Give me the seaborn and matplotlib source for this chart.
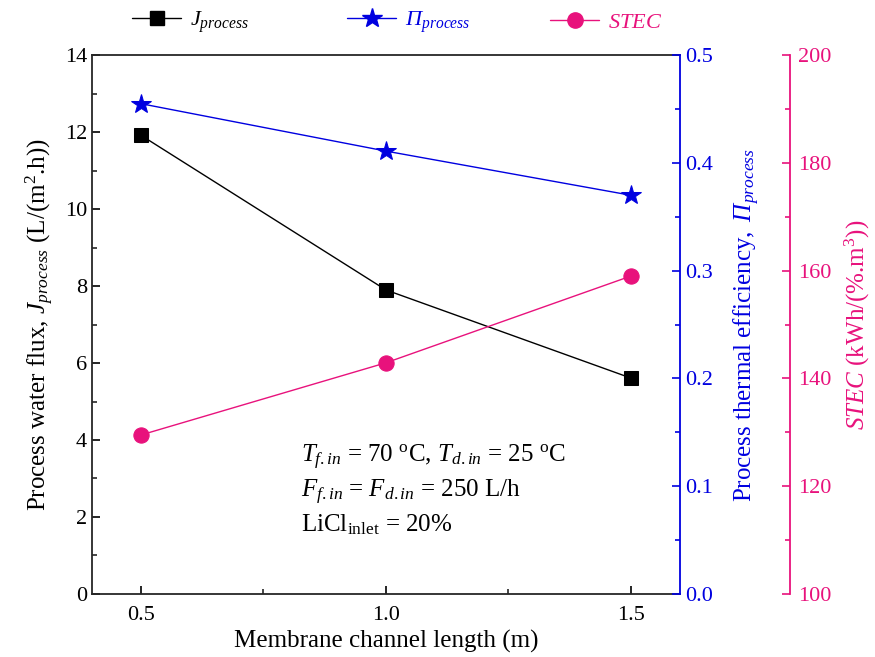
import numpy as np
import pandas as pd
import matplotlib
matplotlib.use("Agg")
import matplotlib.pyplot as plt
import seaborn as sns
from matplotlib.ticker import MultipleLocator, FormatStrFormatter
from matplotlib.lines import Line2D

length = [0.5, 1.0, 1.5]
j_process = [11.92, 7.90, 5.61]
pi_process = [0.455, 0.411, 0.370]
stec = [129.5, 142.9, 159.0]

sns.set_style("ticks")
plt.rcParams['font.family'] = ['Liberation Serif', 'DejaVu Serif']
plt.rcParams['mathtext.fontset'] = 'custom'
plt.rcParams['mathtext.rm'] = 'Liberation Serif'
plt.rcParams['mathtext.it'] = 'Liberation Serif:italic'
plt.rcParams['mathtext.bf'] = 'Liberation Serif:bold'
plt.rcParams['text.color'] = 'black'
plt.rcParams['axes.labelcolor'] = 'black'

BLUE = '#0000e0'
PINK = '#e8127c'

df = pd.DataFrame({'L': length, 'J': j_process, 'Pi': pi_process, 'STEC': stec})

fig = plt.figure(figsize=(8.75, 6.57), dpi=100)
ax = fig.add_axes([0.105, 0.096, 0.672, 0.82])
ax2 = ax.twinx()
ax3 = ax.twinx()
ax3.spines['right'].set_position(('outward', 79))

sns.lineplot(data=df, x='L', y='J', ax=ax, color='black', marker='s', markersize=10,
             linewidth=1.0, markeredgecolor='black')
sns.lineplot(data=df, x='L', y='Pi', ax=ax2, color=BLUE, marker='*', markersize=15,
             linewidth=1.0, markeredgecolor=BLUE)
sns.lineplot(data=df, x='L', y='STEC', ax=ax3, color=PINK, marker='o', markersize=11,
             linewidth=1.0, markeredgecolor=PINK)

ax.set_xlim(0.4, 1.6)
ax.set_ylim(0, 14)
ax2.set_ylim(0, 0.5)
ax3.set_ylim(100, 200)

ax.set_xticks([0.5, 1.0, 1.5])
ax.set_xticklabels(['0.5', '1.0', '1.5'])
ax.xaxis.set_minor_locator(MultipleLocator(0.25))
ax.yaxis.set_major_locator(MultipleLocator(2))
ax.yaxis.set_minor_locator(MultipleLocator(1))
ax2.yaxis.set_major_locator(MultipleLocator(0.1))
ax2.yaxis.set_minor_locator(MultipleLocator(0.05))
ax2.yaxis.set_major_formatter(FormatStrFormatter('%.1f'))
ax3.yaxis.set_major_locator(MultipleLocator(20))
ax3.yaxis.set_minor_locator(MultipleLocator(10))

ax.tick_params(axis='both', which='major', direction='in', length=6, width=1.2, labelsize=16,
               colors='black')
ax.tick_params(axis='both', which='minor', direction='in', length=3.5, width=1.2)
ax.tick_params(axis='x', pad=9)
ax2.tick_params(axis='y', which='major', direction='in', length=6, width=1.2, labelsize=16, colors=BLUE)
ax2.tick_params(axis='y', which='minor', direction='in', length=3.5, width=1.2, colors=BLUE)
ax3.tick_params(axis='y', which='major', direction='in', length=6, width=1.2, labelsize=16, colors=PINK, pad=6)
ax3.tick_params(axis='y', which='minor', direction='in', length=3.5, width=1.2, colors=PINK)

for a in (ax, ax2, ax3):
    for s in a.spines.values():
        s.set_linewidth(1.3)
ax.spines['top'].set_visible(True)
ax.spines['right'].set_visible(False)
ax2.spines['right'].set_color(BLUE)
ax2.spines['left'].set_visible(False)
ax2.spines['top'].set_visible(False)
ax2.spines['bottom'].set_visible(False)
ax3.spines['right'].set_color(PINK)
for k in ('left', 'top', 'bottom'):
    ax3.spines[k].set_visible(False)

ax.set_xlabel('Membrane channel length (m)', fontsize=18, labelpad=3)
ax.set_ylabel(r'Process water flux, $J_{process}$ (L/(m$^{2}$.h))', fontsize=18, labelpad=6)
ax2.set_ylabel(r'$\mathrm{Process\ thermal\ efficiency,}$ Π$_{process}$', fontsize=18,
               color=BLUE, labelpad=14, fontstyle='italic')
ax3.set_ylabel(r'$\mathit{STEC}$ (kWh/(%.m$^{3}$))', fontsize=18, color=PINK, labelpad=8)

ax.text(0.355, 0.28,
        r'$T_{f.in}$ = 70 $^{\rm o}$C, $T_{d.in}$ = 25 $^{\rm o}$C' '\n'
        r'$F_{f.in}$ = $F_{d.in}$ = 250 L/h' '\n'
        r'LiCl$_{\rm inlet}$ = 20%',
        transform=ax.transAxes, fontsize=18, va='top', ha='left', linespacing=1.3)

handles = [
    Line2D([], [], color='black', marker='s', markersize=10, linewidth=1.0),
    Line2D([], [], color=BLUE, marker='*', markersize=15, linewidth=1.0),
    Line2D([], [], color=PINK, marker='o', markersize=11, linewidth=1.0),
]
labels = [r'$J_{process}$', r'Π$_{process}$', r'$\mathit{STEC}$']
colors = ['black', BLUE, PINK]
xs = [0.151, 0.397, 0.629]
for h, lab, c, x in zip(handles, labels, colors, xs):
    lg = fig.legend([h], [lab], loc='center left', bbox_to_anchor=(x, 0.966),
                    frameon=False, fontsize=16, handlelength=2.2, handletextpad=0.4,
                    borderpad=0, borderaxespad=0)
    lg.get_texts()[0].set_color(c)
    if lab.startswith('Π'):
        lg.get_texts()[0].set_fontstyle('italic')

fig.savefig('out.png', dpi=100)
